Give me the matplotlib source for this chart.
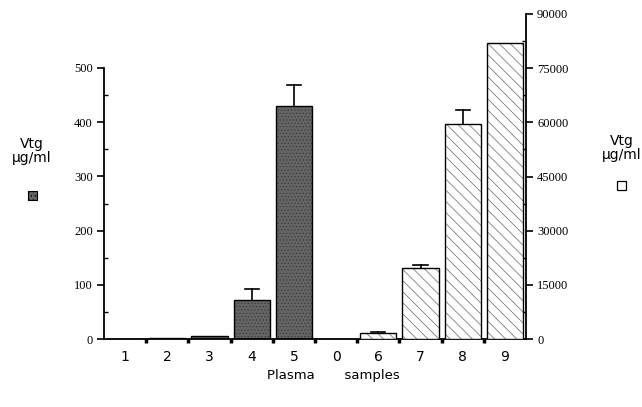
import matplotlib
matplotlib.use("Agg")
import matplotlib.pyplot as plt
from matplotlib.patches import Rectangle
import numpy as np

categories = ['1', '2', '3', '4', '5', '0', '6', '7', '8', '9']
left_vals = [0.5, 2.5, 6, 72, 430]
left_err = [0, 0, 0, 20, 39]
right_vals = [0, 1650, 19700, 59600, 82000]
right_err = [0, 400, 900, 3900, 0]
left_ticks = [0, 100, 200, 300, 400, 500]
right_ticks = [0, 15000, 30000, 45000, 60000, 75000, 90000]

plt.rcParams['hatch.linewidth'] = 0.5
W, H = 642, 407
fig = plt.figure(figsize=(W / 100, H / 100), dpi=100)

x0, x1 = 104 / W, 526 / W
ybot = 1 - 339 / H
ax1 = fig.add_axes([x0, ybot, x1 - x0, (339 - 68) / H])
ax2 = fig.add_axes([x0, ybot, x1 - x0, (339 - 14) / H])
ax2.patch.set_alpha(0)

n = len(categories)
xs = np.arange(n)
width = 0.86

ax1.bar(xs[:5], left_vals, width=width, color='#646464', edgecolor='#3a3a3a',
        linewidth=0, hatch='.....', zorder=2)
ax1.bar(xs[:5], left_vals, width=width, color='none', edgecolor='black',
        linewidth=1.0, zorder=3)
for x, v, e in zip(xs[:5], left_vals, left_err):
    if e > 0:
        ax1.plot([x, x], [v, v + e], color='black', lw=1.2)
        ax1.plot([x - 0.17, x + 0.17], [v + e, v + e], color='black', lw=1.2)

ax2.bar(xs[5:], right_vals, width=width, color='white', edgecolor='#666666',
        linewidth=0, hatch='\\\\\\', zorder=2)
ax2.bar(xs[5:], right_vals, width=width, color='none', edgecolor='black',
        linewidth=1.0, zorder=3)
for x, v, e in zip(xs[5:], right_vals, right_err):
    if e > 0:
        ax2.plot([x, x], [v, v + e], color='black', lw=1.2)
        ax2.plot([x - 0.17, x + 0.17], [v + e, v + e], color='black', lw=1.2)

for ax in (ax1, ax2):
    ax.set_xlim(-0.5, n - 0.5)

ax1.set_ylim(0, 500)
ax2.set_ylim(0, 90000)

# left axis
for s in ['top', 'right']:
    ax1.spines[s].set_visible(False)
ax1.spines['left'].set_linewidth(1.3)
ax1.spines['bottom'].set_linewidth(1.3)
ax1.set_yticks(left_ticks)
ax1.set_yticklabels([str(t) for t in left_ticks], family='Liberation Serif', fontsize=9)
ax1.set_yticks(np.arange(50, 500, 100), minor=True)
ax1.tick_params(axis='y', which='major', direction='out', length=5, width=1.2, pad=3)
ax1.tick_params(axis='y', which='minor', direction='in', length=3, width=1.0)
ax1.set_xticks(xs)
ax1.set_xticklabels(categories, family='DejaVu Sans', fontsize=10)
ax1.set_xticks(np.arange(0.5, n - 0.5, 1), minor=True)
ax1.tick_params(axis='x', which='major', length=0, pad=8)
ax1.tick_params(axis='x', which='minor', direction='out', length=3, width=2.5)

# right axis
for s in ['top', 'left', 'bottom']:
    ax2.spines[s].set_visible(False)
ax2.spines['right'].set_linewidth(1.3)
ax2.set_xticks([])
ax2.yaxis.tick_right()
ax2.set_yticks(right_ticks)
ax2.set_yticklabels([str(t) for t in right_ticks], family='Liberation Serif', fontsize=9)
ax2.set_yticks(np.arange(7500, 90000, 15000), minor=True)
ax2.tick_params(axis='y', which='major', direction='out', length=5, width=1.2, pad=3)
ax2.tick_params(axis='y', which='minor', direction='in', length=3, width=1.0)

# side labels
fig.text(32 / W, 1 - 151 / H, 'Vtg\nµg/ml', ha='center', va='center',
         fontsize=10, family='DejaVu Sans', linespacing=1.05)
fig.patches.append(Rectangle((28 / W, 1 - 200 / H), 9 / W, 9 / H,
                             transform=fig.transFigure, facecolor='#646464',
                             edgecolor='black', hatch='....', lw=0.8))
fig.text(622 / W, 1 - 148 / H, 'Vtg\nµg/ml', ha='center', va='center',
         fontsize=10, family='DejaVu Sans', linespacing=1.05)
fig.patches.append(Rectangle((617 / W, 1 - 190 / H), 9 / W, 9 / H,
                             transform=fig.transFigure, facecolor='white',
                             edgecolor='black', lw=0.9))

fig.text(333 / W, 1 - 376 / H, 'Plasma       samples', ha='center', va='center',
         fontsize=9.5, family='DejaVu Sans')

fig.savefig('out.png', dpi=100)
